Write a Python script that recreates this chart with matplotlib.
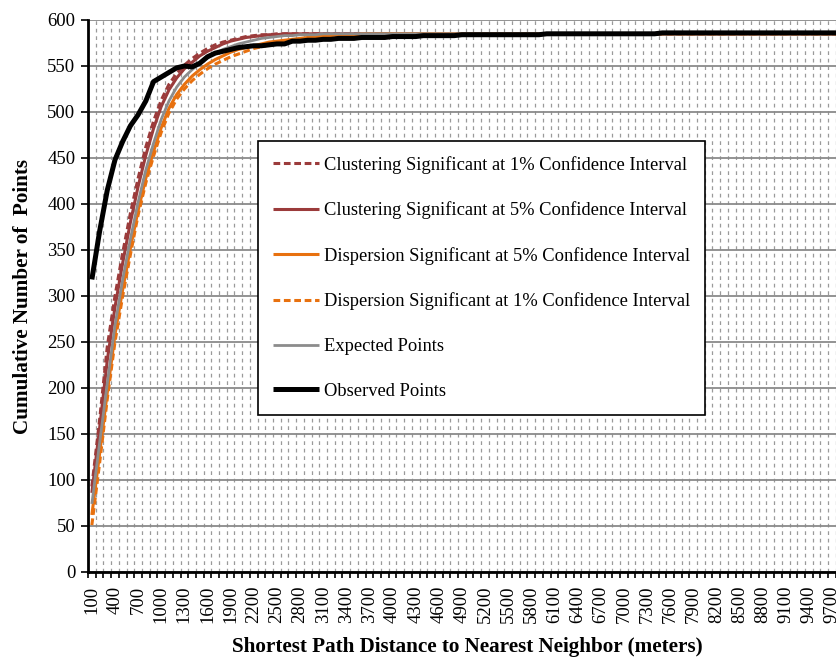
import matplotlib
matplotlib.use("Agg")
import matplotlib.pyplot as plt
from matplotlib.ticker import FixedLocator, FixedFormatter

plt.rcParams['font.family'] = ['Liberation Serif', 'DejaVu Serif']

# distance categories (meters)
distances = list(range(100, 9900, 100))

clust_1 = [93, 165, 245, 300, 347, 390, 428, 462, 490, 513,
           530, 542, 551, 558, 564, 569, 573, 576, 578, 580,
           582, 583, 584, 584, 585, 585, 585, 585, 585, 585,
           585, 585, 585, 585, 585, 585, 585, 585, 585, 585,
           585, 585, 585, 585, 585, 585, 585, 585, 585, 585,
           585, 585, 585, 585, 585, 585, 585, 585, 585, 585,
           585, 585, 585, 585, 585, 585, 585, 585, 585, 585,
           585, 585, 585, 585, 585, 585, 585, 585, 585, 585,
           585, 585, 585, 585, 585, 585, 585, 585, 585, 585,
           585, 585, 585, 585, 585, 585, 585, 585]

clust_5 = [86, 156, 230, 288, 336, 380, 419, 453, 482, 506,
           524, 537, 547, 554, 561, 566, 570, 574, 577, 579,
           581, 582, 583, 584, 584, 585, 585, 585, 585, 585,
           585, 585, 585, 585, 585, 585, 585, 585, 585, 585,
           585, 585, 585, 585, 585, 585, 585, 585, 585, 585,
           585, 585, 585, 585, 585, 585, 585, 585, 585, 585,
           585, 585, 585, 585, 585, 585, 585, 585, 585, 585,
           585, 585, 585, 585, 585, 585, 585, 585, 585, 585,
           585, 585, 585, 585, 585, 585, 585, 585, 585, 585,
           585, 585, 585, 585, 585, 585, 585, 585]

disp_5 = [62, 128, 195, 258, 307, 352, 393, 428, 457, 483,
          504, 519, 530, 539, 546, 552, 557, 561, 565, 568,
          570, 572, 574, 576, 577, 578, 579, 580, 581, 582,
          583, 583, 584, 584, 584, 585, 585, 585, 585, 585,
          585, 585, 585, 585, 585, 585, 585, 585, 585, 585,
          585, 585, 585, 585, 585, 585, 585, 585, 585, 585,
          585, 585, 585, 585, 585, 585, 585, 585, 585, 585,
          585, 585, 585, 585, 585, 585, 585, 585, 585, 585,
          585, 585, 585, 585, 585, 585, 585, 585, 585, 585,
          585, 585, 585, 585, 585, 585, 585, 585]

disp_1 = [51, 118, 188, 250, 300, 345, 388, 423, 452, 478,
          499, 514, 525, 534, 541, 547, 552, 556, 560, 563,
          566, 569, 571, 573, 575, 576, 577, 578, 579, 580,
          581, 582, 582, 583, 583, 584, 584, 584, 585, 585,
          585, 585, 585, 585, 585, 585, 585, 585, 585, 585,
          585, 585, 585, 585, 585, 585, 585, 585, 585, 585,
          585, 585, 585, 585, 585, 585, 585, 585, 585, 585,
          585, 585, 585, 585, 585, 585, 585, 585, 585, 585,
          585, 585, 585, 585, 585, 585, 585, 585, 585, 585,
          585, 585, 585, 585, 585, 585, 585, 585]

expected = [74, 140, 205, 268, 318, 362, 402, 437, 466, 492,
            512, 527, 538, 546, 553, 559, 564, 568, 571, 574,
            576, 578, 580, 581, 582, 583, 583, 584, 584, 584,
            585, 585, 585, 585, 585, 585, 585, 585, 585, 585,
            585, 585, 585, 585, 585, 585, 585, 585, 585, 585,
            585, 585, 585, 585, 585, 585, 585, 585, 585, 585,
            585, 585, 585, 585, 585, 585, 585, 585, 585, 585,
            585, 585, 585, 585, 585, 585, 585, 585, 585, 585,
            585, 585, 585, 585, 585, 585, 585, 585, 585, 585,
            585, 585, 585, 585, 585, 585, 585, 585]

observed = [318, 370, 415, 448, 468, 485, 497, 512, 533, 538,
            543, 548, 550, 549, 553, 560, 564, 566, 568, 570,
            571, 572, 572, 573, 574, 574, 577, 577, 578, 578,
            579, 579, 580, 580, 580, 581, 581, 581, 581, 582,
            582, 582, 582, 583, 583, 583, 583, 583, 584, 584,
            584, 584, 584, 584, 584, 584, 584, 584, 584, 585,
            585, 585, 585, 585, 585, 585, 585, 585, 585, 585,
            585, 585, 585, 585, 586, 586, 586, 586, 586, 586,
            586, 586, 586, 586, 586, 586, 586, 586, 586, 586,
            586, 586, 586, 586, 586, 586, 586, 586]

series = [
    ("Clustering Significant at 1% Confidence Interval", clust_1, '#9b3b3b', (0, (2.2, 1.2)), 2.2),
    ("Clustering Significant at 5% Confidence Interval", clust_5, '#9b3b3b', '-', 2.2),
    ("Dispersion Significant at 5% Confidence Interval", disp_5, '#e8710f', '-', 2.2),
    ("Dispersion Significant at 1% Confidence Interval", disp_1, '#e8710f', (0, (2.2, 1.2)), 2.2),
    ("Expected Points", expected, '#8c8c8c', '-', 2.0),
    ("Observed Points", observed, '#000000', '-', 3.6),
]

fig = plt.figure(figsize=(8.37, 6.57), dpi=100)
ax = fig.add_axes([88 / 837, 1 - 572 / 657, 1 - 88 / 837, 552 / 657])

for label, vals, color, ls, lw in series:
    ax.plot(range(len(vals)), vals, color=color, linestyle=ls, linewidth=lw,
            label=label, solid_capstyle='butt', dash_capstyle='butt')

ax.set_ylim(0, 600)
ax.set_xlim(-0.5, 96.65)

# y axis
ax.set_yticks(range(0, 601, 50))
ax.tick_params(axis='y', direction='out', length=5, width=1.2, labelsize=13.5, pad=4)
ax.grid(axis='y', which='major', color='#8a8a8a', linewidth=1.3, linestyle='-')

# x axis: labels every 3rd category, ticks at category boundaries
label_pos = list(range(0, len(distances), 3))
ax.xaxis.set_major_locator(FixedLocator(label_pos))
ax.xaxis.set_major_formatter(FixedFormatter([str(distances[i]) for i in label_pos]))
ax.xaxis.set_minor_locator(FixedLocator([i + 0.5 for i in range(-1, len(distances))]))
ax.tick_params(axis='x', which='major', length=0, labelsize=13.5, labelrotation=90, pad=10)
ax.tick_params(axis='x', which='minor', direction='out', length=4, width=1.2)
ax.grid(axis='x', which='minor', color='#9a9a9a', linewidth=0.9, linestyle=(0, (3, 3)))
ax.set_axisbelow(True)

for side in ('top', 'right'):
    ax.spines[side].set_visible(False)
for side in ('left', 'bottom'):
    ax.spines[side].set_linewidth(2)

ax.set_ylabel("Cumulative Number of  Points", fontsize=15.2, fontweight='bold')
ax.yaxis.set_label_coords(-0.073, 0.5)
ax.set_xlabel("Shortest Path Distance to Nearest Neighbor (meters)", fontsize=15.2, fontweight='bold')
ax.xaxis.set_label_coords(0.507, -0.117)

leg = ax.legend(loc='upper left', bbox_to_anchor=(258 / 837, 1 - 141 / 657),
                bbox_transform=fig.transFigure, fontsize=13.3, frameon=True,
                fancybox=False, edgecolor='black', framealpha=1,
                handlelength=2.5, handletextpad=0.27, labelspacing=1.5,
                borderpad=0.8, borderaxespad=0)
leg.get_frame().set_linewidth(1.2)

fig.savefig("out.png", dpi=100)
